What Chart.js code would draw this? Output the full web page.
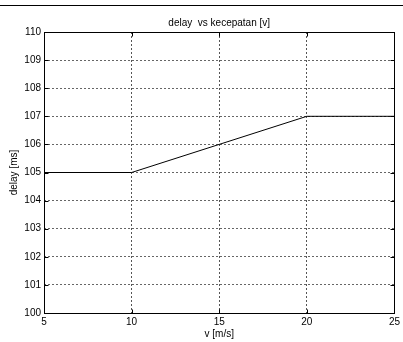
<!DOCTYPE html>
<html>
<head>
<meta charset="utf-8">
<script src="https://cdn.jsdelivr.net/npm/chart.js@4/dist/chart.umd.min.js"></script>
<style>
html,body{margin:0;padding:0;background:#fff;}
#wrap{width:403px;height:342px;position:relative;}
</style>
</head>
<body>
<div id="wrap"><canvas id="c" width="403" height="342"></canvas></div>
<script>
const speeds = [5, 10, 15, 20, 25];
const delays = [105, 105, 106, 107, 107];
const titleText = 'delay  vs kecepatan [v]';
const xLabel = 'v [m/s]';
const yLabel = 'delay [ms]';

const FONT = 'Liberation Sans, Arial, sans-serif';

const decor = {
  id: 'decor',
  beforeDraw(chart) {
    const ctx = chart.ctx;
    ctx.save();
    ctx.fillStyle = '#fff';
    ctx.fillRect(0, 0, chart.width, chart.height);
    ctx.strokeStyle = '#000';
    ctx.lineWidth = 1;
    ctx.beginPath();
    ctx.moveTo(0, 5.5);
    ctx.lineTo(chart.width, 5.5);
    ctx.stroke();
    ctx.restore();
  },
  afterDatasetsDraw(chart) {
    const ctx = chart.ctx;
    const a = chart.chartArea;
    const xs = chart.scales.x, ys = chart.scales.y;
    ctx.save();
    ctx.strokeStyle = '#000';
    ctx.lineWidth = 1;
    ctx.setLineDash([]);
    const L = Math.round(a.left) + 0.5, R = Math.round(a.right) + 0.5;
    const T = Math.round(a.top) + 0.5, B = Math.round(a.bottom) + 0.5;
    ctx.strokeRect(L, T, R - L, B - T);
    ctx.beginPath();
    xs.ticks.forEach(t => {
      const px = Math.round(xs.getPixelForValue(t.value)) + 0.5;
      ctx.moveTo(px, B); ctx.lineTo(px, B - 4);
      ctx.moveTo(px, T); ctx.lineTo(px, T + 4);
    });
    ys.ticks.forEach(t => {
      const py = Math.round(ys.getPixelForValue(t.value)) + 0.5;
      ctx.moveTo(L, py); ctx.lineTo(L + 4, py);
      ctx.moveTo(R, py); ctx.lineTo(R - 4, py);
    });
    ctx.stroke();
    ctx.restore();
  }
};

new Chart(document.getElementById('c'), {
  type: 'line',
  data: {
    datasets: [{
      data: speeds.map((v, i) => ({x: v, y: delays[i]})),
      borderColor: '#000',
      borderWidth: 1,
      pointRadius: 0,
      tension: 0,
      fill: false
    }]
  },
  options: {
    responsive: false,
    animation: false,
    devicePixelRatio: 1,
    layout: {padding: {left: 0, right: 6, top: 0, bottom: 0}},
    plugins: {
      legend: {display: false},
      tooltip: {enabled: false},
      title: {display: false}
    },
    scales: {
      x: {
        type: 'linear',
        min: 5, max: 25,
        afterFit(s) { s.height = 29; },
        ticks: {stepSize: 5, color: '#000', font: {family: FONT, size: 10}, padding: 3, maxRotation: 0},
        grid: {color: '#555', lineWidth: 1, drawTicks: false},
        border: {display: false, dash: [2, 2]},
        title: {display: true, text: xLabel, color: '#000', font: {family: FONT, size: 10}, padding: {top: 0, bottom: 2}}
      },
      x2: {
        type: 'linear',
        position: 'top',
        min: 5, max: 25,
        afterFit(s) { s.height = 32; },
        ticks: {display: false},
        grid: {display: false, drawTicks: false},
        border: {display: false},
        title: {display: true, text: titleText, color: '#000', font: {family: FONT, size: 10}, padding: {top: 17, bottom: 0}}
      },
      y: {
        type: 'linear',
        min: 100, max: 110,
        afterFit(s) { s.width = 44; },
        ticks: {stepSize: 1, color: '#000', font: {family: FONT, size: 10}, padding: 3},
        grid: {color: '#666', lineWidth: 1, drawTicks: false},
        border: {display: false, dash: [2, 2]},
        title: {display: true, text: yLabel, color: '#000', font: {family: FONT, size: 10}, padding: {top: 8, bottom: 0}}
      }
    }
  },
  plugins: [decor]
});
</script>
</body>
</html>
